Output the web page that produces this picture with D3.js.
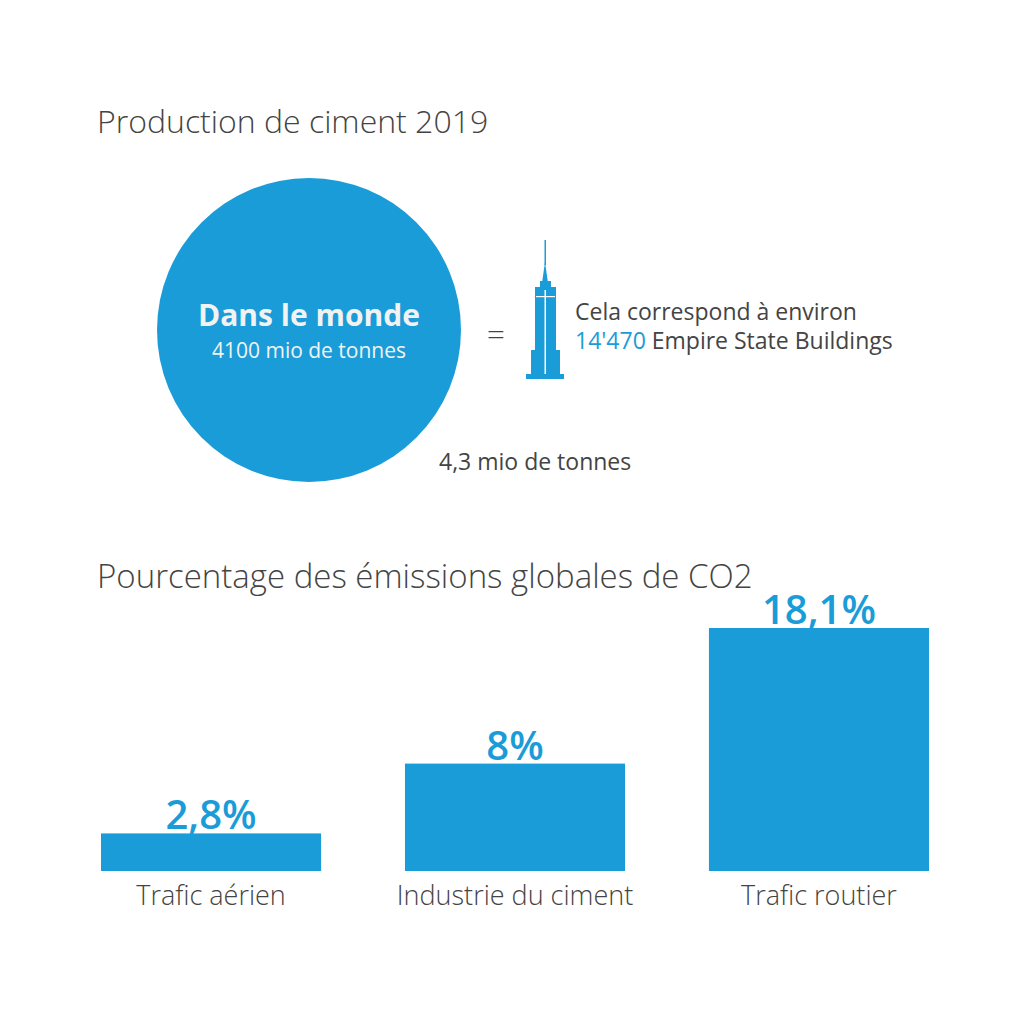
<!DOCTYPE html><html><head><meta charset="utf-8"><script src="https://cdn.jsdelivr.net/npm/d3@7"></script>
<style>body{margin:0;background:#fff}text{font-family:"Open Sans",Lato,sans-serif}</style></head><body><svg id="c" width="1024" height="1024"></svg>
<script>
const categories=["Trafic aérien","Industrie du ciment","Trafic routier"];
const values=[2.8,8,18.1];
const valueLabels=["2,8%","8%","18,1%"];
const worldProduction=4100;
const blue="#1a9cd8", grey="#444";
const svg=d3.select("#c");
svg.append("rect").attr("width",1024).attr("height",1024).attr("fill","#fff");
svg.append("text").attr("x",97).attr("y",133).attr("font-size",32).attr("fill",grey).attr("font-weight",300).text("Production de ciment 2019");
const r=d3.scaleSqrt().domain([0,worldProduction]).range([0,152]);
svg.append("circle").attr("cx",309).attr("cy",330).attr("r",r(worldProduction)).attr("fill",blue);
svg.append("text").attr("x",309).attr("y",326).attr("text-anchor","middle").attr("font-size",30).attr("font-weight",700).attr("fill","#f2f2f2").text("Dans le monde");
svg.append("text").attr("x",309).attr("y",358).attr("text-anchor","middle").attr("font-size",21).attr("fill","#f2f2f2").text("4100 mio de tonnes");
svg.append("text").attr("x",496).attr("y",345).attr("text-anchor","middle").attr("font-size",32).attr("fill",grey).attr("font-weight",300).text("=");
const b=svg.append("g").attr("fill",blue);
b.append("rect").attr("x",544.5).attr("y",240).attr("width",1.5).attr("height",25);
b.append("path").attr("d","M542,283 L545,262 L548,283 Z");
b.append("rect").attr("x",540).attr("y",281).attr("width",11).attr("height",6);
b.append("rect").attr("x",535).attr("y",287).attr("width",21).attr("height",80);
b.append("rect").attr("x",531).attr("y",350).attr("width",29).attr("height",24);
b.append("rect").attr("x",526).attr("y",374).attr("width",38).attr("height",5);
b.append("rect").attr("x",544.5).attr("y",290).attr("width",1.5).attr("height",84).attr("fill","#fff");
b.append("rect").attr("x",536).attr("y",296).attr("width",19).attr("height",1.2).attr("fill","#fff");
svg.append("text").attr("x",575).attr("y",320).attr("font-size",23).attr("fill",grey).text("Cela correspond à environ");
const t2=svg.append("text").attr("x",575).attr("y",349).attr("font-size",23).attr("fill",grey);
t2.append("tspan").attr("fill",blue).text("14'470");
t2.append("tspan").text(" Empire State Buildings");
svg.append("text").attr("x",439).attr("y",470).attr("font-size",23).attr("fill",grey).text("4,3 mio de tonnes");
svg.append("text").attr("x",97).attr("y",588).attr("font-size",33).attr("fill",grey).attr("font-weight",300).text("Pourcentage des émissions globales de CO2");
const x=d3.scaleBand().domain(categories).range([101,929]).paddingInner(0.276);
const y=d3.scaleLinear().domain([0,18.1]).range([871,628]);
const g=svg.append("g");
g.selectAll("rect").data(values).join("rect").attr("x",(d,i)=>x(categories[i])).attr("y",d=>y(d)).attr("width",x.bandwidth()).attr("height",d=>871-y(d)).attr("fill",blue);
g.selectAll(".v").data(values).join("text").attr("x",(d,i)=>x(categories[i])+x.bandwidth()/2).attr("y",d=>y(d)-4).attr("text-anchor","middle").attr("font-size",40).attr("font-weight",600).attr("fill",blue).text((d,i)=>valueLabels[i]);
g.selectAll(".c").data(categories).join("text").attr("x",d=>x(d)+x.bandwidth()/2).attr("y",905).attr("text-anchor","middle").attr("font-size",27).attr("fill",grey).attr("font-weight",300).text(d=>d);
</script></body></html>
